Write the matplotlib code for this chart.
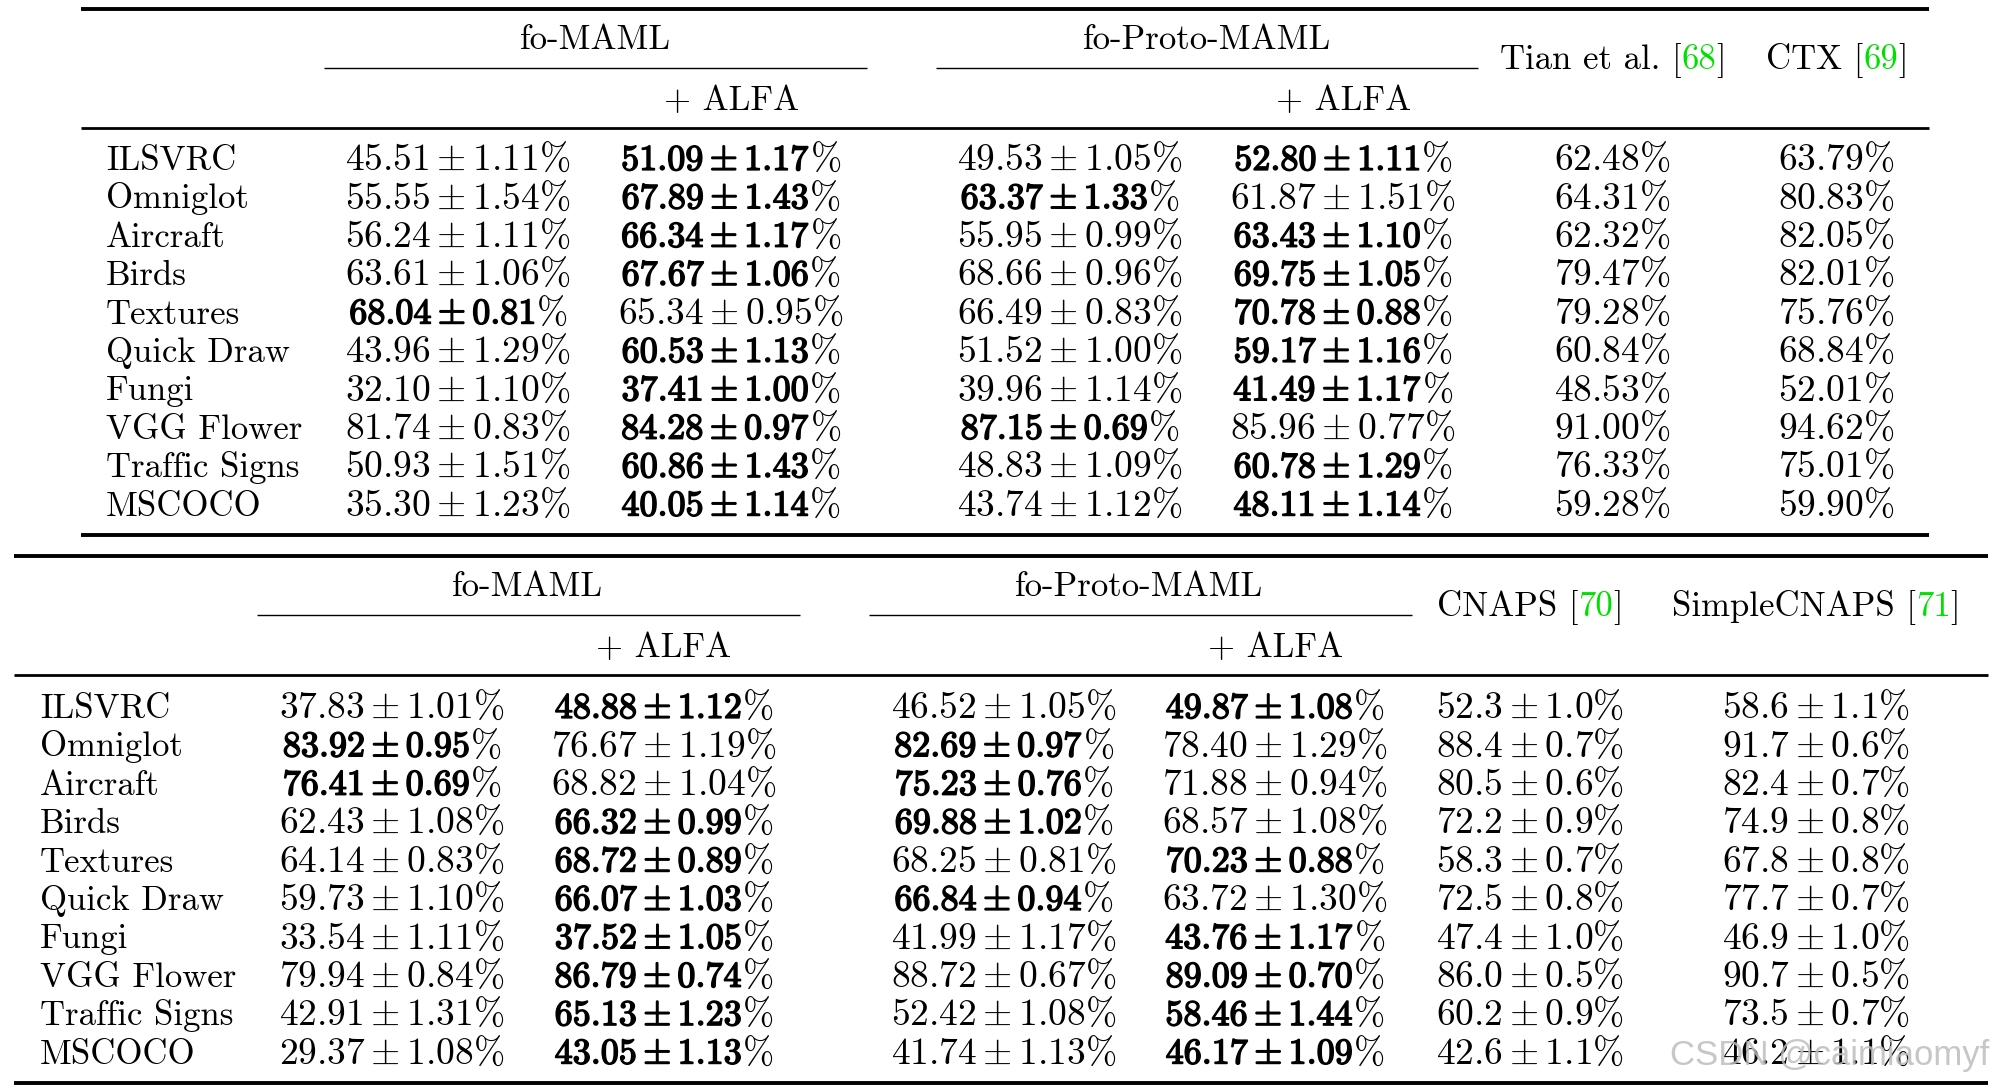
import matplotlib
matplotlib.use("Agg")
import matplotlib.pyplot as plt
import matplotlib.patheffects as pe

plt.rcParams["mathtext.fontset"] = "cm"

# ---------------- data ----------------
datasets = ["ILSVRC", "Omniglot", "Aircraft", "Birds", "Textures",
            "Quick Draw", "Fungi", "VGG Flower", "Traffic Signs", "MSCOCO"]

# table 1
t1_maml = ["45.51", "55.55", "56.24", "63.61", "68.04", "43.96", "32.10", "81.74", "50.93", "35.30"]
t1_maml_sd = ["1.11", "1.54", "1.11", "1.06", "0.81", "1.29", "1.10", "0.83", "1.51", "1.23"]
t1_maml_bold = [4]
t1_maml_alfa = ["51.09", "67.89", "66.34", "67.67", "65.34", "60.53", "37.41", "84.28", "60.86", "40.05"]
t1_maml_alfa_sd = ["1.17", "1.43", "1.17", "1.06", "0.95", "1.13", "1.00", "0.97", "1.43", "1.14"]
t1_maml_alfa_bold = [0, 1, 2, 3, 5, 6, 7, 8, 9]
t1_proto = ["49.53", "63.37", "55.95", "68.66", "66.49", "51.52", "39.96", "87.15", "48.83", "43.74"]
t1_proto_sd = ["1.05", "1.33", "0.99", "0.96", "0.83", "1.00", "1.14", "0.69", "1.09", "1.12"]
t1_proto_bold = [1, 7]
t1_proto_alfa = ["52.80", "61.87", "63.43", "69.75", "70.78", "59.17", "41.49", "85.96", "60.78", "48.11"]
t1_proto_alfa_sd = ["1.11", "1.51", "1.10", "1.05", "0.88", "1.16", "1.17", "0.77", "1.29", "1.14"]
t1_proto_alfa_bold = [0, 2, 3, 4, 5, 6, 8, 9]
t1_tian = ["62.48", "64.31", "62.32", "79.47", "79.28", "60.84", "48.53", "91.00", "76.33", "59.28"]
t1_ctx = ["63.79", "80.83", "82.05", "82.01", "75.76", "68.84", "52.01", "94.62", "75.01", "59.90"]

# table 2
t2_maml = ["37.83", "83.92", "76.41", "62.43", "64.14", "59.73", "33.54", "79.94", "42.91", "29.37"]
t2_maml_sd = ["1.01", "0.95", "0.69", "1.08", "0.83", "1.10", "1.11", "0.84", "1.31", "1.08"]
t2_maml_bold = [1, 2]
t2_maml_alfa = ["48.88", "76.67", "68.82", "66.32", "68.72", "66.07", "37.52", "86.79", "65.13", "43.05"]
t2_maml_alfa_sd = ["1.12", "1.19", "1.04", "0.99", "0.89", "1.03", "1.05", "0.74", "1.23", "1.13"]
t2_maml_alfa_bold = [0, 3, 4, 5, 6, 7, 8, 9]
t2_proto = ["46.52", "82.69", "75.23", "69.88", "68.25", "66.84", "41.99", "88.72", "52.42", "41.74"]
t2_proto_sd = ["1.05", "0.97", "0.76", "1.02", "0.81", "0.94", "1.17", "0.67", "1.08", "1.13"]
t2_proto_bold = [1, 2, 3, 5]
t2_proto_alfa = ["49.87", "78.40", "71.88", "68.57", "70.23", "63.72", "43.76", "89.09", "58.46", "46.17"]
t2_proto_alfa_sd = ["1.08", "1.29", "0.94", "1.08", "0.88", "1.30", "1.17", "0.70", "1.44", "1.09"]
t2_proto_alfa_bold = [0, 4, 6, 7, 8, 9]
t2_cnaps = ["52.3", "88.4", "80.5", "72.2", "58.3", "72.5", "47.4", "86.0", "60.2", "42.6"]
t2_cnaps_sd = ["1.0", "0.7", "0.6", "0.9", "0.7", "0.8", "1.0", "0.5", "0.9", "1.1"]
t2_simple = ["58.6", "91.7", "82.4", "74.9", "67.8", "77.7", "46.9", "90.7", "73.5", "46.2"]
t2_simple_sd = ["1.1", "0.6", "0.7", "0.8", "0.8", "0.7", "1.0", "0.5", "0.7", "1.1"]

W, H = 2007, 1091
FS = 27       # numbers
FS_BOLD = 26  # bold numbers (thickened with a stroke)
FS_TXT = 25   # labels and headers
GREEN = "#00e000"
BOLD_FX = [pe.withStroke(linewidth=1.1, foreground="black")]

fig = plt.figure(figsize=(W / 100, H / 100), dpi=100)
ax = fig.add_axes([0, 0, 1, 1])
ax.set_xlim(0, W)
ax.set_ylim(H, 0)
ax.axis("off")
renderer = fig.canvas.get_renderer()


def draw_cell(xc, y, mean, sd=None, bold=False):
    if sd is None:
        ax.text(xc, y, r"$%s\%%$" % mean, fontsize=FS, ha="center", va="baseline")
        return
    if not bold:
        ax.text(xc, y, r"$%s \pm %s\%%$" % (mean, sd), fontsize=FS, ha="center", va="baseline")
        return
    # bold mean/sd, regular percent sign
    main = ax.text(0, y, r"$\mathbf{%s} \pm \mathbf{%s}$" % (mean, sd),
                   fontsize=FS_BOLD, va="baseline", path_effects=BOLD_FX)
    pct = ax.text(0, y, r"$\%$", fontsize=FS, va="baseline")
    w1 = main.get_window_extent(renderer).width
    w2 = pct.get_window_extent(renderer).width
    x = xc - (w1 + w2) / 2
    main.set_x(x)
    pct.set_x(x + w1)


def pieces_text(xc, y, pieces):
    # draw black/green pieces side by side, centred on xc
    texts = [ax.text(0, y, s, color=c, fontsize=FS_TXT, family="cmr10", va="baseline")
             for s, c in pieces]
    widths = [t.get_window_extent(renderer).width for t in texts]
    x = xc - sum(widths) / 2
    for t, w in zip(texts, widths):
        t.set_x(x)
        x += w


def draw_table(x0, x1, y_top, y_bot, group_c, cmid, last_c, last_pieces,
               alfa_c, label_x, col_c, row0, columns):
    ax.plot([x0, x1], [y_top, y_top], color="black", lw=2.8, solid_capstyle="butt")
    ax.plot([x0, x1], [y_top + 119, y_top + 119], color="black", lw=2.0, solid_capstyle="butt")
    ax.plot([x0, x1], [y_bot, y_bot], color="black", lw=2.8, solid_capstyle="butt")
    for xc, name, (a, b) in zip(group_c, ["fo-MAML", "fo-Proto-MAML"], cmid):
        ax.text(xc, y_top + 40, name, fontsize=FS_TXT, family="cmr10", ha="center", va="baseline")
        ax.plot([a, b], [y_top + 59, y_top + 59], color="black", lw=1.0, solid_capstyle="butt")
    for xc in alfa_c:
        ax.text(xc, y_top + 101, "+ ALFA", fontsize=FS_TXT, family="cmr10", ha="center", va="baseline")
    for xc, pcs in zip(last_c, last_pieces):
        pieces_text(xc, y_top + 60, pcs)
    for i, name in enumerate(datasets):
        y = row0 + 38.4 * i
        ax.text(label_x, y, name, fontsize=FS_TXT, family="cmr10", ha="left", va="baseline")
        for xc, (means, sds, bolds) in zip(col_c, columns):
            draw_cell(xc, y, means[i], None if sds is None else sds[i], i in bolds)


draw_table(
    81, 1929, 9, 535,
    group_c=[595, 1207], cmid=[(324, 867), (936, 1478)],
    last_c=[1613, 1837],
    last_pieces=[[("Tian et al. [", "black"), ("68", GREEN), ("]", "black")],
                 [("CTX [", "black"), ("69", GREEN), ("]", "black")]],
    alfa_c=[732, 1344], label_x=106,
    col_c=[458, 731, 1070, 1343, 1612, 1836], row0=170,
    columns=[(t1_maml, t1_maml_sd, t1_maml_bold),
             (t1_maml_alfa, t1_maml_alfa_sd, t1_maml_alfa_bold),
             (t1_proto, t1_proto_sd, t1_proto_bold),
             (t1_proto_alfa, t1_proto_alfa_sd, t1_proto_alfa_bold),
             (t1_tian, None, []),
             (t1_ctx, None, [])],
)

draw_table(
    14, 1988, 556, 1083,
    group_c=[527, 1139], cmid=[(257, 800), (869, 1412)],
    last_c=[1530, 1816],
    last_pieces=[[("CNAPS [", "black"), ("70", GREEN), ("]", "black")],
                 [("SimpleCNAPS [", "black"), ("71", GREEN), ("]", "black")]],
    alfa_c=[664, 1276], label_x=40,
    col_c=[392, 664, 1004, 1275, 1530, 1816], row0=718,
    columns=[(t2_maml, t2_maml_sd, t2_maml_bold),
             (t2_maml_alfa, t2_maml_alfa_sd, t2_maml_alfa_bold),
             (t2_proto, t2_proto_sd, t2_proto_bold),
             (t2_proto_alfa, t2_proto_alfa_sd, t2_proto_alfa_bold),
             (t2_cnaps, t2_cnaps_sd, []),
             (t2_simple, t2_simple_sd, [])],
)

# watermark
ax.text(1670, 1056, "CSDN @caimiaomyf", fontsize=25, family="Liberation Sans",
        color="#bdbdbd", alpha=0.85, ha="left", va="center")

fig.savefig("out.png", dpi=100)
